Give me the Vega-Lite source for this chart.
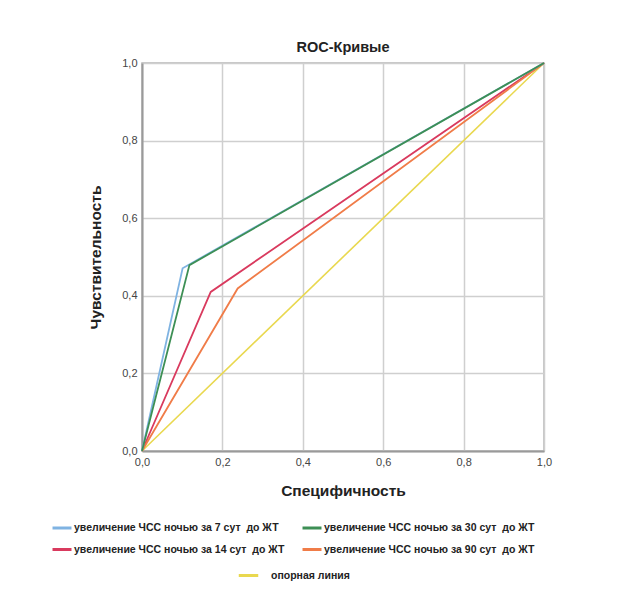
{
  "$schema": "https://vega.github.io/schema/vega-lite/v6.json",
  "width": 402,
  "height": 388,
  "autosize": {"type": "none"},
  "padding": {"left": 142, "top": 63, "right": 88, "bottom": 151},
  "background": "white",
  "title": {"text": "ROC-Кривые", "font": "Liberation Sans", "fontSize": 14.5, "fontWeight": "bold", "color": "#222222", "offset": 2},
  "datasets": {
    "curves": [
      {"curve": "увеличение ЧСС ночью за 14 сут\u00a0 до ЖТ", "spec": 0, "sens": 0},
      {"curve": "увеличение ЧСС ночью за 14 сут\u00a0 до ЖТ", "spec": 0.171, "sens": 0.41},
      {"curve": "увеличение ЧСС ночью за 14 сут\u00a0 до ЖТ", "spec": 1, "sens": 1},
      {"curve": "увеличение ЧСС ночью за 90 сут\u00a0 до ЖТ", "spec": 0, "sens": 0},
      {"curve": "увеличение ЧСС ночью за 90 сут\u00a0 до ЖТ", "spec": 0.238, "sens": 0.419},
      {"curve": "увеличение ЧСС ночью за 90 сут\u00a0 до ЖТ", "spec": 1, "sens": 1},
      {"curve": "увеличение ЧСС ночью за 7 сут\u00a0 до ЖТ", "spec": 0, "sens": 0},
      {"curve": "увеличение ЧСС ночью за 7 сут\u00a0 до ЖТ", "spec": 0.101, "sens": 0.471},
      {"curve": "увеличение ЧСС ночью за 7 сут\u00a0 до ЖТ", "spec": 1, "sens": 1},
      {"curve": "увеличение ЧСС ночью за 30 сут\u00a0 до ЖТ", "spec": 0, "sens": 0},
      {"curve": "увеличение ЧСС ночью за 30 сут\u00a0 до ЖТ", "spec": 0.118, "sens": 0.479},
      {"curve": "увеличение ЧСС ночью за 30 сут\u00a0 до ЖТ", "spec": 1, "sens": 1}
    ],
    "reference": [
      {"ref": "опорная линия", "spec": 0, "sens": 0},
      {"ref": "опорная линия", "spec": 1, "sens": 1}
    ]
  },
  "layer": [
    {
      "data": {"name": "reference"},
      "mark": {"type": "line", "strokeWidth": 1.6},
      "encoding": {
        "x": {"field": "spec", "type": "quantitative", "scale": {"domain": [0, 1], "nice": false}, "title": "Специфичность"},
        "y": {"field": "sens", "type": "quantitative", "scale": {"domain": [0, 1], "nice": false}, "title": "Чувствительность"},
        "stroke": {
          "field": "ref", "type": "nominal",
          "scale": {"domain": ["опорная линия"], "range": ["#e9d84f"]},
          "legend": {"title": null, "orient": "none", "legendX": 95, "legendY": 501, "symbolType": "stroke", "symbolSize": 380, "symbolStrokeWidth": 3, "labelOffset": 11}
        }
      }
    },
    {
      "data": {"name": "curves"},
      "mark": {"type": "line", "strokeWidth": 1.8},
      "encoding": {
        "x": {"field": "spec", "type": "quantitative"},
        "y": {"field": "sens", "type": "quantitative"},
        "color": {
          "field": "curve", "type": "nominal",
          "scale": {
            "domain": ["увеличение ЧСС ночью за 7 сут\u00a0 до ЖТ", "увеличение ЧСС ночью за 14 сут\u00a0 до ЖТ", "увеличение ЧСС ночью за 30 сут\u00a0 до ЖТ", "увеличение ЧСС ночью за 90 сут\u00a0 до ЖТ"],
            "range": ["#7fb3e2", "#d93a5e", "#3d8f55", "#f07c48"]
          },
          "legend": {"title": null, "orient": "none", "legendX": -91, "legendY": 454, "columns": 2, "columnPadding": 11, "rowPadding": 4.5, "symbolType": "stroke", "symbolSize": 360, "symbolStrokeWidth": 3, "labelOffset": 1}
        }
      }
    }
  ],
  "config": {
    "font": "Liberation Sans",
    "view": {"stroke": "#b5b5b5", "strokeWidth": 1.5},
    "axis": {
      "grid": true,
      "gridColor": "#cfcfcf",
      "gridWidth": 1.5,
      "gridOpacity": 1,
      "ticks": false,
      "tickCount": 5,
      "domainColor": "#9a9a9a",
      "domainWidth": 2,
      "labelFont": "Liberation Sans",
      "labelFontSize": 11,
      "labelColor": "#444444",
      "labelPadding": 5,
      "titleFont": "Liberation Sans",
      "titleFontSize": 15.5,
      "titleFontWeight": "bold",
      "titleColor": "#222222",
      "labelExpr": "replace(format(datum.value, '.1f'), '.', ',')",
      "values": [0, 0.2, 0.4, 0.6, 0.8, 1]
    },
    "axisX": {"titlePadding": 16, "labelFlush": false},
    "axisY": {"titlePadding": 18, "labelFlush": false},
    "legend": {
      "labelFont": "Liberation Sans",
      "labelFontSize": 10.5,
      "labelFontWeight": "bold",
      "labelColor": "#222222",
      "labelLimit": 400
    }
  }
}
